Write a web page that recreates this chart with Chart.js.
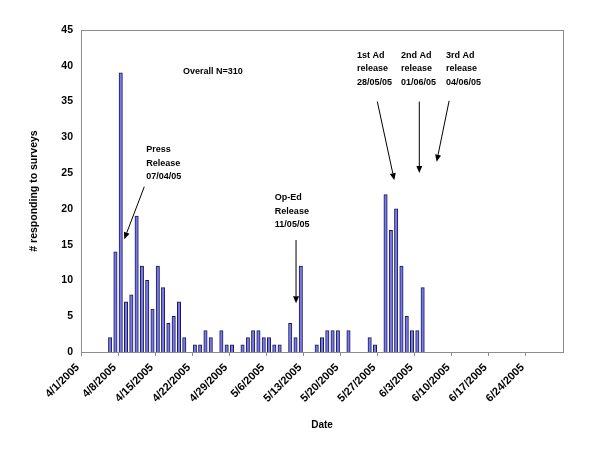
<!DOCTYPE html>
<html>
<head>
<meta charset="utf-8">
<script src="https://cdn.jsdelivr.net/npm/chart.js@4/dist/chart.umd.min.js"></script>
<style>
  html, body { margin: 0; padding: 0; background: #ffffff; }
  #chartBox { width: 600px; height: 464px; }
</style>
</head>
<body>
<div id="chartBox"><canvas id="SurveyChart"></canvas></div>
<script>
// Axis: one slot per day, 4/1/2005 .. 6/30/2005
var firstDay = [2005, 4, 1];
var numberOfDays = 91;
var tickEvery = 7;

// Days that had responses and how many came in
var responseDates = [
  '4/6/2005', '4/7/2005', '4/8/2005', '4/9/2005', '4/10/2005', '4/11/2005', '4/12/2005', '4/13/2005',
  '4/14/2005', '4/15/2005', '4/16/2005', '4/17/2005', '4/18/2005', '4/19/2005', '4/20/2005',
  '4/22/2005', '4/23/2005', '4/24/2005', '4/25/2005',
  '4/27/2005', '4/28/2005', '4/29/2005',
  '5/1/2005', '5/2/2005', '5/3/2005', '5/4/2005', '5/5/2005', '5/6/2005', '5/7/2005', '5/8/2005',
  '5/10/2005', '5/11/2005', '5/12/2005',
  '5/15/2005', '5/16/2005', '5/17/2005', '5/18/2005', '5/19/2005',
  '5/21/2005',
  '5/25/2005', '5/26/2005',
  '5/28/2005', '5/29/2005', '5/30/2005', '5/31/2005', '6/1/2005', '6/2/2005', '6/3/2005', '6/4/2005'
];
var responseCounts = [
  2, 14, 39, 7, 8, 19, 12, 10,
  6, 12, 9, 4, 5, 7, 2,
  1, 1, 3, 2,
  3, 1, 1,
  1, 2, 3, 3, 2, 2, 1, 1,
  4, 2, 12,
  1, 2, 3, 3, 3,
  3,
  2, 1,
  22, 17, 20, 12, 5, 3, 3, 9
];

// Y axis
var yMin = 0;
var yMax = 45;
var yStep = 5;

// Notes written on the chart (x in day slots, y in responses)
var notes = [
  { lines: ['Overall N=310'], x: 24.4, y: 39.2, align: 'center' },
  { lines: ['Press', 'Release', '07/04/05'], x: 11.8, y: 28.3, align: 'left' },
  { lines: ['Op-Ed', 'Release', '11/05/05'], x: 36.1, y: 21.6, align: 'left' },
  { lines: ['1st Ad', 'release', '28/05/05'], x: 51.6, y: 41.5, align: 'left' },
  { lines: ['2nd Ad', 'release', '01/06/05'], x: 59.9, y: 41.5, align: 'left' },
  { lines: ['3rd Ad', 'release', '04/06/05'], x: 68.4, y: 41.5, align: 'left' }
];
var arrows = [
  { from: [11.45, 23.1], to: [7.67, 15.75] },
  { from: [40.1, 15.65], to: [40.1, 6.8] },
  { from: [55.44, 35.0], to: [58.65, 24.0] },
  { from: [63.37, 35.0], to: [63.37, 25.0] },
  { from: [69.0, 35.1], to: [66.65, 26.6] }
];

var chartFont = 'Liberation Sans, Arial, sans-serif';
var dayLabels, dayCounts, surveyChart;

// Builds the list of day slots and drops each count into its day
function buildDays(){
  dayLabels = new Array();
  dayCounts = new Array();
  var d = new Date(firstDay[0], firstDay[1] - 1, firstDay[2]);
  for (var i = 0; i < numberOfDays; i++) {
    dayLabels[i] = (d.getMonth() + 1) + '/' + d.getDate() + '/' + d.getFullYear();
    dayCounts[i] = null;
    d.setDate(d.getDate() + 1);
  }
  for (var j = 0; j < responseDates.length; j++) {
    var k = dayLabels.indexOf(responseDates[j]);
    if (k >= 0) dayCounts[k] = responseCounts[j];
  }
}

// Gray frame round the plot area, as in Excel
var framePlugin = {
  id: 'frame',
  beforeDatasetsDraw: function(chart){
    var a = chart.chartArea, ctx = chart.ctx;
    ctx.save();
    ctx.strokeStyle = '#8c8c8c';
    ctx.lineWidth = 1;
    ctx.strokeRect(Math.round(a.left) + 0.5, Math.round(a.top) + 0.5,
                   Math.round(a.right - a.left), Math.round(a.bottom - a.top));
    ctx.restore();
  }
};

// Text notes and arrows, placed through the scales
var notesPlugin = {
  id: 'notes',
  afterDraw: function(chart){
    var ctx = chart.ctx, xs = chart.scales.x, ys = chart.scales.y;
    var slot = xs.getPixelForValue(1) - xs.getPixelForValue(0);
    function px(v){ return xs.getPixelForValue(0) + v * slot; }
    ctx.save();
    ctx.fillStyle = '#000000';
    ctx.font = 'bold 9px ' + chartFont;
    ctx.textBaseline = 'middle';
    for (var i = 0; i < notes.length; i++) {
      var n = notes[i];
      ctx.textAlign = n.align;
      for (var l = 0; l < n.lines.length; l++) {
        ctx.fillText(n.lines[l], px(n.x), ys.getPixelForValue(n.y) + l * 13.7);
      }
    }
    ctx.strokeStyle = '#000000';
    ctx.lineWidth = 1;
    for (var j = 0; j < arrows.length; j++) {
      var x1 = px(arrows[j].from[0]), y1 = ys.getPixelForValue(arrows[j].from[1]);
      var x2 = px(arrows[j].to[0]), y2 = ys.getPixelForValue(arrows[j].to[1]);
      var ang = Math.atan2(y2 - y1, x2 - x1);
      var hl = 7, hw = 3;
      var bx = x2 - hl * Math.cos(ang), by = y2 - hl * Math.sin(ang);
      ctx.beginPath();
      ctx.moveTo(x1, y1);
      ctx.lineTo(bx, by);
      ctx.stroke();
      ctx.beginPath();
      ctx.moveTo(x2, y2);
      ctx.lineTo(bx + hw * Math.sin(ang), by - hw * Math.cos(ang));
      ctx.lineTo(bx - hw * Math.sin(ang), by + hw * Math.cos(ang));
      ctx.closePath();
      ctx.fill();
    }
    ctx.restore();
  }
};

// Creates the bar chart
function makeBarChart(chartInput){
  return new Chart(chartInput, {
    type: 'bar',
    data: {
      labels: dayLabels,
      datasets: [
        {
          label: '# responding to surveys',
          backgroundColor: '#7878f0',
          borderColor: '#1a1a4d',
          borderWidth: 1,
          borderSkipped: 'bottom',
          barThickness: 3.4,
          data: dayCounts
        }
      ]
    },
    plugins: [framePlugin, notesPlugin],
    options: {
      responsive: true,
      maintainAspectRatio: false,
      animation: false,
      layout: { padding: { top: 30, right: 37, left: 0, bottom: 0 } },
      plugins: {
        legend: { display: false },
        tooltip: { enabled: false }
      },
      scales: {
        x: {
          offset: true,
          afterFit: function(scale){ scale.height = 112; },
          border: { display: false },
          grid: {
            offset: true,
            drawOnChartArea: false,
            drawTicks: true,
            tickLength: 4,
            color: function(c){ return c.index % tickEvery === 0 ? '#8c8c8c' : 'rgba(0,0,0,0)'; }
          },
          ticks: {
            autoSkip: false,
            minRotation: 45,
            maxRotation: 45,
            padding: 5,
            labelOffset: -6,
            color: '#000000',
            font: { family: chartFont, size: 11, weight: 'bold' },
            callback: function(v, i){ return i % tickEvery === 0 ? dayLabels[i] : ''; }
          },
          title: {
            display: true,
            text: 'Date',
            color: '#000000',
            padding: { top: 0, bottom: 33 },
            font: { family: chartFont, size: 10, weight: 'bold' }
          }
        },
        y: {
          min: yMin,
          max: yMax,
          afterFit: function(scale){ scale.width = 81; },
          border: { display: false },
          grid: { display: false, drawTicks: false },
          ticks: {
            stepSize: yStep,
            padding: 8,
            color: '#000000',
            font: { family: chartFont, size: 10.5, weight: 'bold' }
          },
          title: {
            display: true,
            text: '# responding to surveys',
            color: '#000000',
            padding: { top: 28, bottom: 0 },
            font: { family: chartFont, size: 10.5, weight: 'bold' }
          }
        }
      }
    }
  });
}

// To execute on boot
buildDays();
surveyChart = makeBarChart(document.getElementById('SurveyChart'));
</script>
</body>
</html>
